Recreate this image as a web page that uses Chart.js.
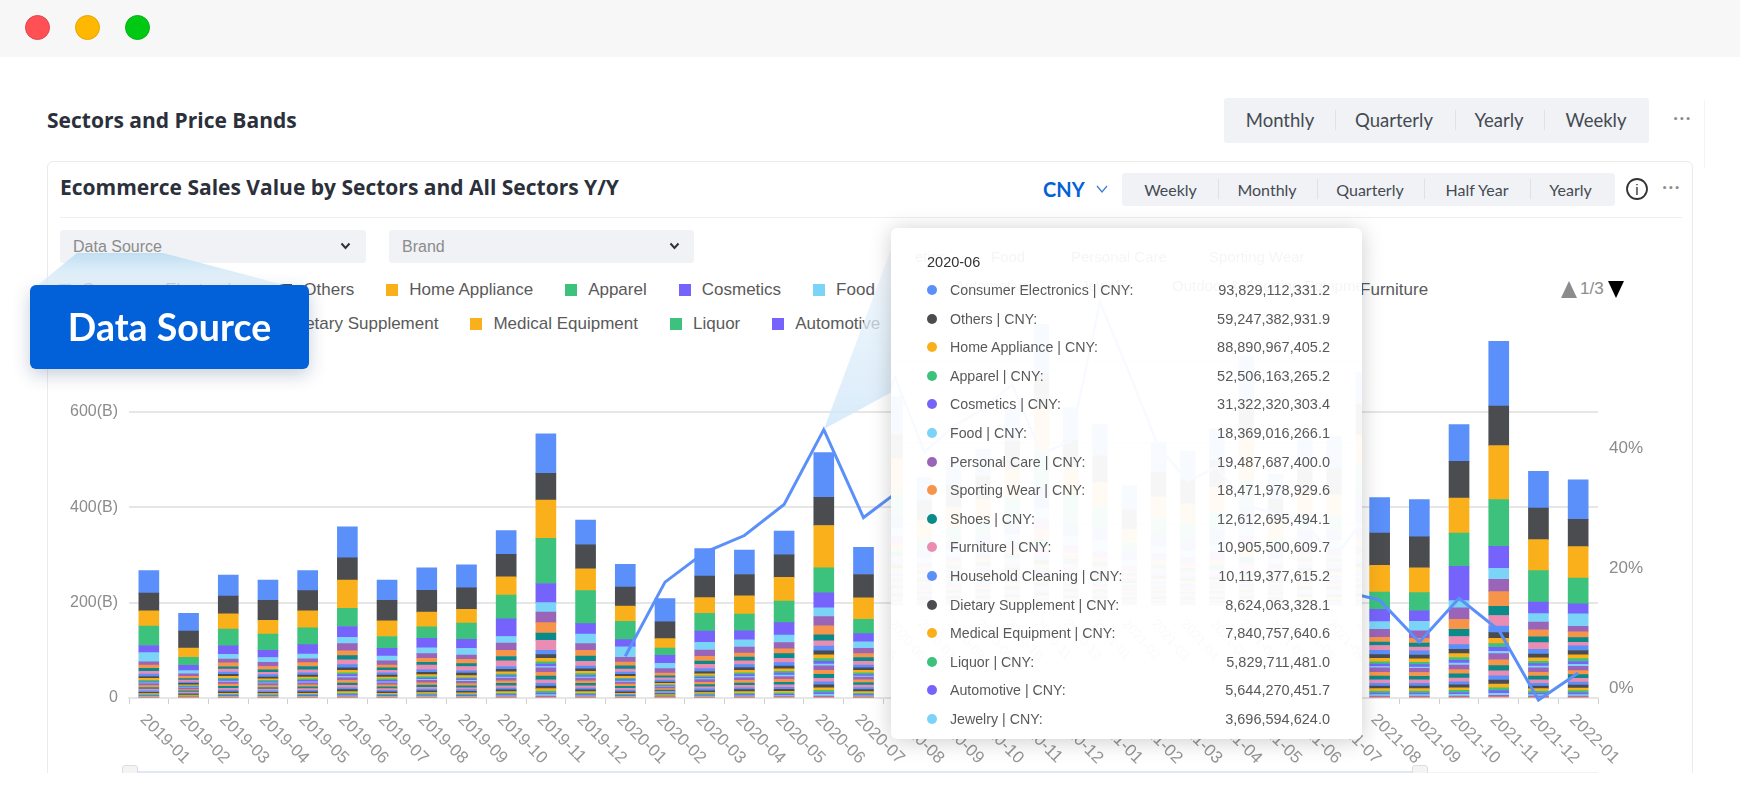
<!DOCTYPE html>
<html><head><meta charset="utf-8">
<script src="https://cdn.jsdelivr.net/npm/chart.js@4"></script>
<style>
html,body{margin:0;padding:0;width:1740px;height:810px;overflow:hidden;background:#fff;font-family:"Liberation Sans",sans-serif}
body{filter:blur(.45px)}
.abs{position:absolute}
#bar{left:0;top:0;width:1740px;height:57px;background:#f7f7f8}
.dot{position:absolute;top:15px;width:25px;height:25px;border-radius:50%;box-sizing:border-box;border:1px solid}
h1,h2{position:absolute;margin:0;font-family:"Open Sans",sans-serif;color:#2b303a;white-space:nowrap;line-height:1}
#card{left:47px;top:161px;width:1646px;height:640px;box-sizing:border-box;border:1px solid #ebebeb;border-radius:6px}
.tabs{position:absolute;background:#f0f2f5;border-radius:3px}
.tabs span{position:absolute;transform:translate(-50%,-50%);font-family:Lato,sans-serif;color:#454a52;white-space:nowrap}
.tabs i{position:absolute;width:1px;background:#dfe1e5}
.more{position:absolute;font-family:Lato,sans-serif;color:#8c8c8c;letter-spacing:1px;line-height:1}
.select{position:absolute;top:230px;height:33px;background:#f0f2f5;border-radius:3px;font-size:16px;color:#8c8c8c;line-height:33px;text-indent:13px}
.select svg{position:absolute;top:11px}
.legendRow{position:absolute;display:flex;align-items:center;height:24px;font-size:17px;color:#5a5a5a;white-space:nowrap}
.legendRow b{font-weight:400;display:flex;align-items:center;margin-right:32px}
.legendRow u{display:inline-block;width:12px;height:12px;margin-right:11px}
#box{left:30px;top:285px;width:279px;height:84px;background:#0261d8;border-radius:6px;color:#fff;font:700 37.5px/84px Lato,sans-serif;text-align:center;box-shadow:0 6px 18px rgba(0,40,90,.22);z-index:6}
#tip{left:891px;top:228px;width:471px;height:511px;background:#fff;border-radius:6px;box-shadow:0 2px 22px rgba(0,0,0,.2);z-index:5;overflow:hidden}
#tip .row{position:absolute;left:0;width:100%;font-size:14.2px;color:#595959;line-height:20px;height:20px;white-space:nowrap}
#tip .row u{position:absolute;left:36px;top:5px;width:10px;height:10px;border-radius:50%}
#tip .row span{position:absolute;left:59px}
#tip .row em{position:absolute;right:32px;font-style:normal;font-size:14.5px}
#tipTitle{position:absolute;left:36px;top:24px;font-size:14.5px;color:#333;line-height:20px}
#ghost{position:absolute;left:-603px;top:39px;transform-origin:0 0;transform:scale(.737,.85);opacity:.05}
.ghostText{position:absolute;font-size:15px;color:#000;opacity:.04;white-space:nowrap;line-height:18px}
#cover{left:0;top:773px;width:1740px;height:37px;background:#fff;z-index:8}
</style></head><body>
<div id="bar" class="abs">
 <div class="dot" style="left:25px;background:#ff5056;border-color:#e8434a"></div>
 <div class="dot" style="left:75px;background:#ffb800;border-color:#e8a400"></div>
 <div class="dot" style="left:125px;background:#00c914;border-color:#00b312"></div>
</div>
<h1 style="left:47px;top:110px;font-size:21px;font-weight:700">Sectors and Price Bands</h1>
<div class="tabs" id="tabsTop" style="left:1224px;top:98px;width:425px;height:45px"></div>
<div class="more" style="left:1673px;top:106px;font-size:20px">···</div>
<div class="abs" style="left:1704px;top:100px;width:1px;height:68px;background:#f4f4f4"></div>
<div id="card" class="abs"></div>
<h2 style="left:60px;top:177px;font-size:21px;font-weight:700">Ecommerce Sales Value by Sectors and All Sectors Y/Y</h2>
<div class="abs" style="left:1043px;top:177px;font:700 20px/24px Lato,sans-serif;color:#0261d8">CNY</div>
<svg class="abs" style="left:1096px;top:184px" width="12" height="10"><path d="M1 2L6 8L11 2" fill="none" stroke="#3f7fd6" stroke-width="1.3"/></svg>
<div class="tabs" id="tabsCard" style="left:1122px;top:173px;width:493px;height:33px"></div>
<svg class="abs" style="left:1625px;top:177px" width="24" height="24"><circle cx="12" cy="12" r="10" fill="none" stroke="#333" stroke-width="1.8"/><text x="12" y="17.5" font-size="15" text-anchor="middle" fill="#333" font-family="Liberation Sans">i</text></svg>
<div class="more" style="left:1662px;top:175px;font-size:20px">···</div>
<div class="abs" style="left:60px;top:217px;width:1622px;height:1px;background:#efefef"></div>
<div class="select" style="left:60px;width:306px">Data Source<svg style="left:280px" width="11" height="10"><path d="M1.5 2.5L5.5 7L9.5 2.5" fill="none" stroke="#333" stroke-width="2"/></svg></div>
<div class="select" style="left:389px;width:305px">Brand<svg style="left:280px" width="11" height="10"><path d="M1.5 2.5L5.5 7L9.5 2.5" fill="none" stroke="#333" stroke-width="2"/></svg></div>
<div class="legendRow" id="legend1" style="left:59px;top:278px"></div>
<div class="legendRow" id="legend2" style="left:58px;top:312px"></div>
<div class="abs" style="left:1561px;top:281px;width:0;height:0;border-left:8px solid transparent;border-right:8px solid transparent;border-bottom:17px solid #8c8c8c"></div>
<div class="abs" style="left:1580px;top:279px;font-size:17px;line-height:20px;color:#8c8c8c">1/3</div>
<div class="abs" style="left:1608px;top:281px;width:0;height:0;border-left:8.5px solid transparent;border-right:8.5px solid transparent;border-top:17px solid #000"></div>
<canvas id="main" class="abs" style="left:0;top:300px" width="1740" height="480"></canvas>
<svg class="abs" style="left:0;top:0;z-index:4" width="1740" height="810">
 <defs>
  <linearGradient id="gA" x1="0" y1="1" x2="0" y2="0"><stop offset="0" stop-color="#cfe6f8" stop-opacity=".8"/><stop offset="1" stop-color="#eef6fc" stop-opacity=".7"/></linearGradient>
  <linearGradient id="gB" x1="0" y1="0" x2="0" y2="1"><stop offset="0" stop-color="#b9dcf1" stop-opacity=".85"/><stop offset="1" stop-color="#e8f3fb" stop-opacity=".8"/></linearGradient>
 </defs>
 <polygon points="824,429 892,247 892,392" fill="url(#gA)"/>
 <polygon points="77,253 163,253 284,285 38,285" fill="url(#gB)"/>
</svg>
<div id="tip" class="abs">
 <canvas id="ghost" width="1740" height="480"></canvas>
 <div id="tipTitle"></div>
</div>
<div id="box" class="abs">Data Source</div>
<div class="abs" style="left:129px;top:772px;width:1469px;height:1px;background:#f2f2f2;z-index:3"></div>
<div class="abs" style="left:136px;top:771px;width:1276px;height:2px;background:#dfe7f7;z-index:3"></div>
<div class="abs" style="left:122px;top:765px;width:14px;height:10px;background:#f4f4f4;border:1px solid #ddd;border-radius:3px;z-index:3"></div>
<div class="abs" style="left:1412px;top:765px;width:14px;height:10px;background:#f4f4f4;border:1px solid #ddd;border-radius:3px;z-index:3"></div>
<div id="cover" class="abs"></div>
<script>
// ---- text / tick data ----
const months=["2019-01","2019-02","2019-03","2019-04","2019-05","2019-06","2019-07","2019-08","2019-09","2019-10","2019-11","2019-12","2020-01","2020-02","2020-03","2020-04","2020-05","2020-06","2020-07","2020-08","2020-09","2020-10","2020-11","2020-12","2021-01","2021-02","2021-03","2021-04","2021-05","2021-06","2021-07","2021-08","2021-09","2021-10","2021-11","2021-12","2022-01"];
const leftTicks=[0,200,400,600];
const rightTicks=[0,20,40];
const topTabs=["Monthly","Quarterly","Yearly","Weekly"];
const cardTabs=["Weekly","Monthly","Quarterly","Half Year","Yearly"];
const tipMonth="2020-06";
const tipNames=["Consumer Electronics","Others","Home Appliance","Apparel","Cosmetics","Food","Personal Care","Sporting Wear","Shoes","Furniture","Household Cleaning","Dietary Supplement","Medical Equipment","Liquor","Automotive","Jewelry"];
const tipValues=["93,829,112,331.2","59,247,382,931.9","88,890,967,405.2","52,506,163,265.2","31,322,320,303.4","18,369,016,266.1","19,487,687,400.0","18,471,978,929.6","12,612,695,494.1","10,905,500,609.7","10,119,377,615.2","8,624,063,328.1","7,840,757,640.6","5,829,711,481.0","5,644,270,451.7","3,696,594,624.0"];
const legendRow1=["Consumer Electronics","Others","Home Appliance","Apparel","Cosmetics","Food","Personal Care","Sporting Wear","Shoes","Furniture"];
const legendRow2=["Household Cleaning","Dietary Supplement","Medical Equipment","Liquor","Automotive","Jewelry","Outdoor & Sporting Equipment"];
const palette=["#5b8ff9","#4b4c4f","#fab01b","#3cc27d","#7663fb","#7bd3f8","#9a64b8","#f6954a","#0b8a8a","#eb8db3"];
// ---- series values, billions CNY ----
const consumerElectronics=[47,37,44,42,42,65,42,47,48,50,83,52,48,49,58,51,50,93.8,57,62,66,82,122,80,78,60,72,70,78,118,62,74,78,77,136,77,83];
const others=[37,36,37,42,42,47,43,46,45,47,56,50,40,35,45,45,47,59.2,49,54,58,72,84,68,66,48,62,60,66,80,56,68,65,77,83,66,57];
const homeAppliance=[32,19,32,29,36,59,33,31,29,38,80,46,32,20,33,38,50,88.9,45,50,53,68,108,66,58,32,52,50,62,110,42,56,52,73,113,65,66];
const apparel=[41,17,35,34,35,38,25,24,34,50,95,69,38,15,37,35,45,52.5,30,36,40,58,92,74,56,24,40,38,46,68,28,36,38,70,98,66,54];
const cosmetics=[15,11,18,15,20,23,16,20,19,37,40,22,15,17,24,19,26,31.3,17,20,22,32,48,30,28,20,30,28,34,46,20,26,22,72,46,24,21];
const food=[19,7,10,10,10,13,10,12,14,14,20,20,22,11,16,15,16,18.4,14,16,17,20,24,22,28,14,18,16,18,22,14,16,20,15,23,18,26];
const personalCare=[7,5,8,9,8,15,9,10,9,15,22,14,10,9,13,13,13,19.5,11,12,13,17,27,18,15,11,17,16,20,28,12,17,16,24,26,16,12];
const sportingWear=[7,5,8,7,8,10,6,8,9,13,22,12,8,6,10,8,10,18.5,8,9,10,13,26,15,12,8,12,11,13,24,9,10,10,21,31,15,12];
const shoes=[6,3,5,5,7,9,5,6,6,9,15,11,7,4,7,8,10,12.6,8,9,9,11,18,13,10,6,9,9,10,16,7,7,8,15,19,12,10];
const furniture=[6,4,6,5,6,10,5,10,9,12,21,10,6,5,9,8,9,10.9,8,9,10,12,22,13,10,7,11,10,12,18,8,10,8,17,22,14,7];
const householdCleaning=[5,3,5,5,5,7,5,5,5,6,9,6,5,4,6,6,7,10.1,6,7,8,10,11,8,8,6,7,7,7,8,6,9,9,10,14,10,10];
const dietarySupplement=[4,3,4,4,4,5,4,5,5,5,8,5,4,3,5,6,6,8.6,5,6,7,8,10,7,7,5,6,6,6,7,5,8,8,9,12,8,9];
const medicalEquipment=[4,2,4,3,4,5,4,4,4,5,7,5,4,3,4,5,5,7.8,5,6,6,7,9,6,6,5,6,5,5,6,5,7,7,8,11,7,8];
const liquor=[3,2,3,3,3,4,3,3,3,3,5,4,3,2,3,4,4,5.8,4,4,5,5,6,5,5,3,4,4,4,5,3,5,5,6,8,5,6];
const automotive=[2,2,3,2,3,4,3,3,3,3,5,3,3,2,3,4,4,5.6,3,4,4,5,6,5,4,3,4,4,4,4,3,5,5,6,8,5,6];
const jewelry=[2,1,2,2,2,2,2,2,2,2,3,2,2,1,2,2,3,3.7,2,3,3,4,4,3,3,2,3,2,3,3,2,3,3,4,5,4,4];
const outdoorSporting=[4,3,4.5,4,4.5,6,4.5,5,5,6,9,6,4.5,3,5.5,6,6,9.5,6,7,7.5,9,10.5,7.5,7.5,5.5,6.5,6,6.5,7,6,9,8.5,9.5,13,9,9];
const tail2=[4,2.5,4.5,4,4,5.5,4,5,4.5,5.5,8,5.5,4.5,3,5,5.5,6,8.5,5.5,6.5,7,8,10,7,7,5.5,6,6,6,6.5,5.5,8,8,9,12,8,8.5];
const tail3=[3.5,2.5,4,3.5,4,5,4,4.5,4,5,8,5,4,3,4.5,5,5.5,8,5.5,6,6.5,8,9,6.5,6.5,5,6,5.5,5.5,6.5,5,8,7.5,8.5,11,8,8];
const tail4=[3.5,2.5,4,3.5,3.5,5,3.5,4,4,4.5,7,4.5,4,2.5,4.5,5,5,7.5,5,5.5,6,7,8.5,6,6,4.5,5.5,5,5.5,6,4.5,7,7,8,10.5,7,7.5];
const tail5=[3,2,3.5,3,3,4,3,3.5,3.5,4,6,4,3.5,2,4,4,4.5,6.5,4.5,5,5,6,7.5,5.5,5,4,4.5,4.5,4.5,5,4,6,6,6.5,9,6,6.5];
const tail6=[2.5,2,3,2.5,3,4,3,3.5,3,3.5,5.5,3.5,3,2,3.5,4,4,6,4,4.5,5,5.5,7,5,4.5,3.5,4.5,4,4,4.5,3.5,5.5,5.5,6,8.5,5.5,6];
const tail7=[2.5,1.5,2.5,2.5,2.5,3.5,2.5,3,3,3.5,5,3.5,2.5,2,3,3.5,3.5,5.5,3.5,4,4.5,5,6,4.5,4.5,3.5,4,3.5,4,4,3.5,5,5,5.5,7.5,5,5.5];
const tail8=[2,1.5,2,2,2,3,2,2.5,2.5,3,4,3,2,1.5,2.5,3,3,4.5,3,3.5,3.5,4,5,3.5,3.5,2.5,3,3,3,3.5,2.5,4,4,4.5,6,4,4.5];
const tail9=[1.5,1,2,1.5,2,2.5,2,2,2,2.5,3.5,2.5,2,1.5,2,2.5,2.5,4,2.5,3,3,3.5,4.5,3,3,2.5,2.5,2.5,2.5,3,2.5,3.5,3.5,4,5.5,3.5,4];
const tail10=[1.5,1,1.5,1.5,1.5,2,1.5,2,1.5,2,3,2,1.5,1,2,2,2,3.5,2,2.5,2.5,3,3.5,2.5,2.5,2,2.5,2,2.5,2.5,2,3,3,3.5,4.5,3,3];
const tail11=[1,.5,1,1,1,1.5,1,1,1,1.5,2,1.5,1,.5,1,1.5,1.5,2,1.5,1.5,1.5,2,2.5,2,1.5,1.5,1.5,1.5,1.5,1.5,1.5,2,2,2,3,2,2];
const tail12=[1,.5,1,1,1,1,1,1,1,1,2,1,1,.5,1,1,1.5,2,1,1.5,1.5,2,2,1.5,1.5,1,1.5,1,1.5,1.5,1,2,2,2,2.5,2,2];
const allSectorsYoY=[null,null,null,null,null,null,null,null,null,null,null,null,5.3,17.7,22.7,25.5,30.7,43.2,28.5,33.5,37,41.8,28,30.7,58,44,29.5,22.8,25.5,18,16.3,14.7,7.7,15,9.7,-2,2.5];

const stackTopDown=[["Consumer Electronics",consumerElectronics],["Others",others],["Home Appliance",homeAppliance],["Apparel",apparel],["Cosmetics",cosmetics],["Food",food],["Personal Care",personalCare],["Sporting Wear",sportingWear],["Shoes",shoes],["Furniture",furniture],["Household Cleaning",householdCleaning],["Dietary Supplement",dietarySupplement],["Medical Equipment",medicalEquipment],["Liquor",liquor],["Automotive",automotive],["Jewelry",jewelry],["Outdoor & Sporting Equipment",outdoorSporting],["Tail 2",tail2],["Tail 3",tail3],["Tail 4",tail4],["Tail 5",tail5],["Tail 6",tail6],["Tail 7",tail7],["Tail 8",tail8],["Tail 9",tail9],["Tail 10",tail10],["Tail 11",tail11],["Tail 12",tail12]];

// ---- html chrome ----
function tabs(id,names,centers,seps,size,midY){
  const el=document.getElementById(id);
  names.forEach((n,i)=>{const s=document.createElement('span');s.textContent=n;s.style.cssText=`left:${centers[i]}px;top:${midY}px;font-size:${size}px`;el.appendChild(s);});
  seps.forEach(x=>{const b=document.createElement('i');b.style.cssText=`left:${x}px;top:${midY-10}px;height:20px`;el.appendChild(b);});
}
tabs('tabsTop',topTabs,[56,170,275,372],[111,231,320],18.5,22);
tabs('tabsCard',cardTabs,[48.5,145,248,355,448.5],[96,195,302,408],16,16);
function legend(id,names){
  const el=document.getElementById(id);
  names.forEach(n=>{const i=tipNames.indexOf(n);const c=palette[(i<0?16:i)%10];
    const b=document.createElement('b');b.innerHTML=`<u style="background:${c}"></u>`;b.appendChild(document.createTextNode(n));el.appendChild(b);});
}
legend('legend1',legendRow1);legend('legend2',legendRow2);
const tip=document.getElementById('tip');
document.getElementById('tipTitle').textContent=tipMonth;
tipNames.forEach((n,i)=>{const r=document.createElement('div');r.className='row';r.style.top=(52+i*28.6)+'px';
  r.innerHTML=`<u style="background:${palette[i%10]}"></u><span>${n} | CNY:</span><em>${tipValues[i]}</em>`;tip.appendChild(r);});
[["etics",24,20],["Food",100,20],["Personal Care",180,20],["Sporting Wear",318,20],["Automotive",64,49],["Jewelry",190,49],["Outdoor & Sporting Equipment",281,49]].forEach(([t,l,y])=>{
  const d=document.createElement('div');d.className='ghostText';d.textContent=t;d.style.left=l+'px';d.style.top=y+'px';tip.insertBefore(d,document.getElementById('tipTitle'));});

// ---- chart ----
const tickColor='#8c8c8c', gridColor='#e6e6e6';
const slantLabels={id:'slantLabels',afterDraw(chart){
  const x=chart.scales.x,ctx=chart.ctx;ctx.save();ctx.font='17px "Liberation Sans"';ctx.fillStyle='#969696';ctx.textAlign='left';ctx.textBaseline='middle';
  months.forEach((m,i)=>{ctx.save();ctx.translate(x.getPixelForTick(i)-6,x.top+19);ctx.rotate(Math.PI/4);ctx.fillText(m,0,0);ctx.restore();});
  ctx.restore();}};
function build(id){
  const bars=stackTopDown.slice().reverse().map(([label,data])=>{
    const idx=stackTopDown.findIndex(s=>s[0]===label);
    return {type:'bar',label,data,backgroundColor:palette[idx%10],stack:'s',yAxisID:'y',order:1,barThickness:20};});
  const line={type:'line',label:'All Sectors Y/Y',data:allSectorsYoY,yAxisID:'yr',borderColor:'#5b8ff9',borderWidth:3,pointRadius:0,tension:0,spanGaps:false,fill:false,clip:false,order:0};
  return new Chart(document.getElementById(id),{
    data:{labels:months,datasets:[...bars,line]},
    plugins:[slantLabels],
    options:{responsive:false,animation:false,devicePixelRatio:1,
      layout:{padding:{top:9,left:0,right:0,bottom:0}},
      plugins:{legend:{display:false},tooltip:{enabled:false}},
      scales:{
        x:{stacked:true,offset:true,grid:{drawOnChartArea:false,color:'#cfcfcf',tickLength:6,lineWidth:1},border:{color:gridColor,width:2},
           ticks:{display:false,autoSkip:false},afterFit(s){s.height=82;}},
        y:{position:'left',stacked:true,min:0,max:790,grid:{color:gridColor,lineWidth:2,drawTicks:false},border:{display:false},
           afterBuildTicks(s){s.ticks=leftTicks.map(value=>({value}));},
           ticks:{padding:11,color:tickColor,font:{family:'"Liberation Sans"',size:16},callback:v=>v===0?'0':v+'(B)'},afterFit(s){s.width=129;}},
        yr:{position:'right',min:-1.667,max:61.33,grid:{display:false,drawTicks:false},border:{display:false},
           afterBuildTicks(s){s.ticks=rightTicks.map(value=>({value}));},
           ticks:{padding:11,color:tickColor,font:{family:'"Liberation Sans"',size:17},callback:v=>v+'%'},afterFit(s){s.width=142;}}
      }}});
}
build('main');build('ghost');
</script>
</body></html>
